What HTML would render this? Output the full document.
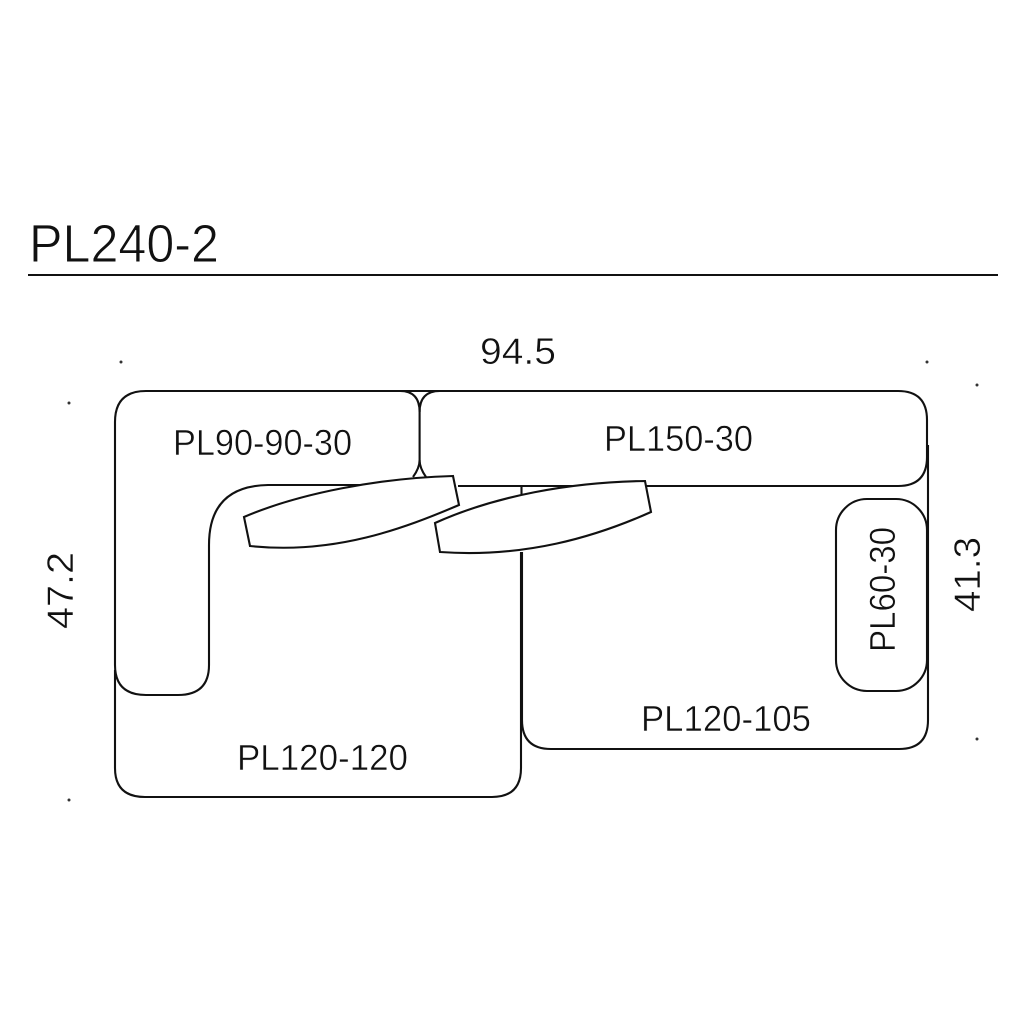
<!DOCTYPE html>
<html>
<head>
<meta charset="utf-8">
<style>
html,body{margin:0;padding:0;background:#fff;}
svg{display:block;}
text{font-family:"Liberation Sans",sans-serif;fill:#111;stroke:#fff;stroke-width:.5px;paint-order:normal;}
</style>
</head>
<body>
<svg width="1024" height="1024" viewBox="0 0 1024 1024" xmlns="http://www.w3.org/2000/svg">
<rect width="1024" height="1024" fill="#fff"/>
<text x="29" y="262" font-size="54" textLength="190" lengthAdjust="spacingAndGlyphs" style="stroke-width:.9px">PL240-2</text>
<line x1="28" y1="275" x2="998" y2="275" stroke="#111" stroke-width="2"/>
<text x="480" y="364" font-size="37" textLength="76" lengthAdjust="spacingAndGlyphs">94.5</text>
<g fill="#333">
<circle cx="121" cy="362" r="1.5"/><circle cx="927" cy="362" r="1.5"/><circle cx="977" cy="385" r="1.5"/><circle cx="977" cy="739" r="1.5"/><circle cx="69" cy="403" r="1.5"/><circle cx="69" cy="800" r="1.5"/>
</g>
<g fill="none" stroke="#111" stroke-width="2.1">
<!-- top outline -->
<path d="M146 391H898Q927 391 927 420V457Q927 486 898 486H458"/>
<!-- PL90-90-30 outline -->
<path d="M146 391Q115 391 115 422V665Q115 695 146 695H178Q209 695 209 665V545Q209 486 268 485H360"/>
<!-- centre junction -->
<path d="M400 391Q419.6 391 419.6 412V460Q419.6 468 413 477"/>
<path d="M440 391Q419.6 391 419.6 412M419.6 460Q419.6 468 426 477"/>
<!-- PL120-120 -->
<path d="M115 670V768Q115 797 145 797H492Q521 797 521 768V552"/>
<path d="M521.5 486V494"/>
<!-- PL120-105 -->
<path d="M928 445V720Q928 749 899 749H551Q522 749 522 720V552"/>
<!-- PL60-30 -->
<rect x="836" y="499" width="91" height="192" rx="31" fill="#fff"/>
<!-- cushions -->
<path d="M244 517C300 493 380 478 453 476L459 505C405 528 335 555 250 546Z" fill="#fff"/>
<path d="M435 523C495 496 570 482 645 481L651 512C595 537 525 558 440 552Z" fill="#fff"/>
</g>
<text x="173" y="455" font-size="36" textLength="179" lengthAdjust="spacingAndGlyphs">PL90-90-30</text>
<text x="604" y="451" font-size="36" textLength="149" lengthAdjust="spacingAndGlyphs">PL150-30</text>
<text x="641" y="731" font-size="36" textLength="170" lengthAdjust="spacingAndGlyphs">PL120-105</text>
<text x="237" y="770" font-size="36" textLength="171" lengthAdjust="spacingAndGlyphs">PL120-120</text>
<text transform="translate(895 652) rotate(-90)" font-size="36" textLength="125" lengthAdjust="spacingAndGlyphs">PL60-30</text>
<text transform="translate(73 629) rotate(-90)" font-size="37" textLength="77" lengthAdjust="spacingAndGlyphs">47.2</text>
<text transform="translate(980 612) rotate(-90)" font-size="37" textLength="75" lengthAdjust="spacingAndGlyphs">41.3</text>
</svg>
</body>
</html>
